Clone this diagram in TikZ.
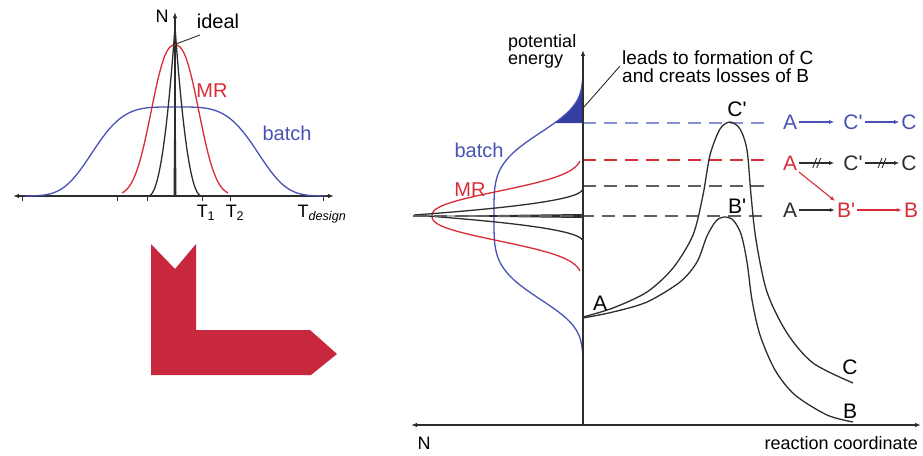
\documentclass[tikz,border=0pt]{standalone}
\usepackage{fontspec}
\setmainfont{Liberation Sans}
\usetikzlibrary{arrows.meta}
\definecolor{cblue}{RGB}{72,82,180}
\definecolor{dblue}{RGB}{135,145,215}
\definecolor{cred}{RGB}{215,45,55}
\definecolor{cgray}{RGB}{45,45,45}
\definecolor{dgray}{RGB}{95,95,95}
\definecolor{lred}{RGB}{200,40,62}
\definecolor{fblue}{RGB}{50,62,160}
\newcommand{\pr}{\textquotesingle}
\tikzset{
  declare function={
    fb(\d)=89/exp(((\d/90)*(\d/90))^2);
    fr(\d)=151/exp(((abs(\d)+0.01)/30)^2.4);
    fk(\d)=169*(max(1-abs(\d)/27,0.0001))^2.2;
  },
  axisline/.style={draw=cgray,line width=1.3pt},
  tip/.style={-{Latex[length=6pt,width=4.5pt]}},
  dtip/.style={{Latex[length=6pt,width=4.5pt]}-{Latex[length=6pt,width=4.5pt]}},
  curveline/.style={line width=1.3pt},
  dline/.style={line width=1.4pt,dash pattern=on 13pt off 8pt},
  lbl/.style={font=\fontsize{20}{22}\selectfont,inner sep=0pt},
  small/.style={font=\fontsize{18}{20}\selectfont,inner sep=0pt},
  rowlbl/.style={font=\fontsize{21}{23}\selectfont,inner sep=1pt},
  rarr/.style={line width=1.1pt,-{Latex[length=5pt,width=4pt]},shorten <=1pt,shorten >=1pt},
}
\begin{document}
\begin{tikzpicture}[x=1pt,y=-1pt]
\useasboundingbox (0,0) rectangle (923,455);
% ---------------- left plot ----------------
\draw[axisline,dtip] (13,196) -- (334,196);
\draw[axisline,tip] (175,196) -- (175,12);
\foreach \tx in {22,117,147,202,230,323} \draw[cgray,line width=0.9pt] (\tx,195) -- (\tx,201);
\draw[cblue,curveline] plot[domain=-150:150,samples=151] ({175+\x},{196-fb(\x)});
\draw[cred,curveline] plot[domain=-53:53,samples=107] ({175+\x},{196-fr(\x)});
\draw[cgray,curveline] plot[domain=-27:27,samples=109] ({175+\x},{196-fk(\x)});
\fill[cgray] (173.5,196) -- (175,27) -- (176.5,196) -- cycle;
\node[small] (nleft) at (162,16) {N};
\node[lbl] (ideal) at (218,21) {ideal};
\coordinate (idealpt) at (176,44);
\draw[cgray,line width=0.9pt] (idealpt) -- (200,35);
\node[lbl,text=cred] (mrl) at (212,91) {MR};
\node[lbl,text=cblue] (batchl) at (287,133) {batch};
\node[small] (t1) at (206,213) {T\textsubscript{1}};
\node[small] (t2) at (235,213) {T\textsubscript{2}};
\node[small] (td) at (322,214) {T\textsubscript{\itshape design}};
% ---------------- red L arrow ----------------
\fill[lred] (151,244) -- (175,269) -- (196,244) -- (196,330) -- (310,330) -- (337,354) -- (311,375) -- (151,375) -- cycle;
% ---------------- right plot ----------------
\fill[fblue] plot[domain=-150:-93,samples=40,variable=\t] ({583-fb(\t)},{216+\t}) -- (583,123) -- (583,66) -- cycle;
\draw[cblue,curveline] plot[domain=-150:150,samples=151,variable=\t] ({583-fb(\t)},{216+\t});
\draw[cred,curveline] plot[domain=-55:55,samples=111,variable=\t] ({583-fr(\t*53/55)},{216+\t});
\draw[cgray,curveline] plot[domain=-27:27,samples=109,variable=\t] ({583-fk(\t)},{215+\t});
\fill[cgray] (583,214) -- (413,216) -- (583,218) -- cycle;
% dashed levels
\draw[dblue,dline] (583,123) -- (765,123);
\draw[cred,dline] (583,160) -- (765,160);
\draw[dgray,dline] (583,186) -- (765,186);
\draw[dgray,dline] (413,216) -- (765,216);
% axes
\draw[axisline,dtip] (411,425) -- (921,425);
\draw[axisline,tip] (583,425) -- (583,50);
% energy curves
\draw[cgray,curveline] plot[smooth] coordinates {(583,317) (613,308) (647,292) (673,268) (693,235) (703,195) (710,155) (720,129) (730,122) (740,129) (747,150) (751,195) (756,240) (767,292) (787,333) (813,363) (853,383)};
\draw[cgray,curveline] plot[smooth] coordinates {(583,318) (613,312) (647,302) (680,282) (697,262) (707,236) (716,221) (724,217) (733,220) (741,234) (747,262) (752,300) (760,335) (775,370) (795,395) (827,415) (853,422)};
% labels right
\node[small,align=left,anchor=west] (pe) at (508,51) {potential\\[-3pt]energy};
\node[small,align=left,anchor=west,font=\fontsize{19}{21}\selectfont] (leads) at (622,67) {leads to formation of C\\[-3pt]and creats losses of B};
\coordinate (leadpt) at (584,107);
\draw[cgray,line width=0.9pt] (leadpt) -- (620,66);
\node[lbl,text=cblue] (batchr) at (479,150) {batch};
\node[lbl,text=cred] (mrr) at (470,190) {MR};
\node[rowlbl,inner sep=0pt] (pA) at (600,303) {A};
\node[rowlbl,inner sep=0pt] (pCp) at (737,109) {C\pr};
\node[rowlbl,inner sep=0pt] (pBp) at (737,206) {B\pr};
\node[rowlbl,inner sep=0pt] (pC) at (850,367) {C};
\node[rowlbl,inner sep=0pt] (pB) at (850,411) {B};
\node[small] (nright) at (424,443) {N};
\node[small,anchor=east] (rc) at (918,443) {reaction coordinate};
% reaction rows
\node[rowlbl,text=cblue] (a1) at (790,122) {A};
\node[rowlbl,text=cblue] (c1p) at (853,122) {C\pr};
\node[rowlbl,text=cblue] (c1) at (909,122) {C};
\draw[rarr,cblue,shorten >=8pt] (a1) -- (c1p);
\draw[rarr,cblue] (c1p) -- (c1);
\node[rowlbl,text=cred] (a2) at (790,163) {A};
\node[rowlbl,text=cgray] (c2p) at (853,163) {C\pr};
\node[rowlbl,text=cgray] (c2) at (909,163) {C};
\draw[rarr,cgray,shorten >=8pt] (a2) -- coordinate[pos=0.42] (m1) (c2p);
\draw[rarr,cgray] (c2p) -- coordinate[pos=0.5] (m2) (c2);
\foreach \m in {m1,m2} {
  \draw[cgray,line width=0.9pt] ([xshift=-4pt,yshift=-5pt]\m) -- ([xshift=0pt,yshift=5pt]\m);
  \draw[cgray,line width=0.9pt] ([xshift=0pt,yshift=-5pt]\m) -- ([xshift=4pt,yshift=5pt]\m);
}
\node[rowlbl,text=cgray] (a3) at (790,210) {A};
\node[rowlbl,text=cred] (b3p) at (846,210) {B\pr};
\node[rowlbl,text=cred] (b3) at (911,210) {B};
\draw[rarr,cgray] (a3) -- (b3p);
\draw[rarr,cred] (b3p) -- (b3);
\draw[rarr,cred] (a2.south east) -- (b3p.north west);
\end{tikzpicture}
\end{document}
